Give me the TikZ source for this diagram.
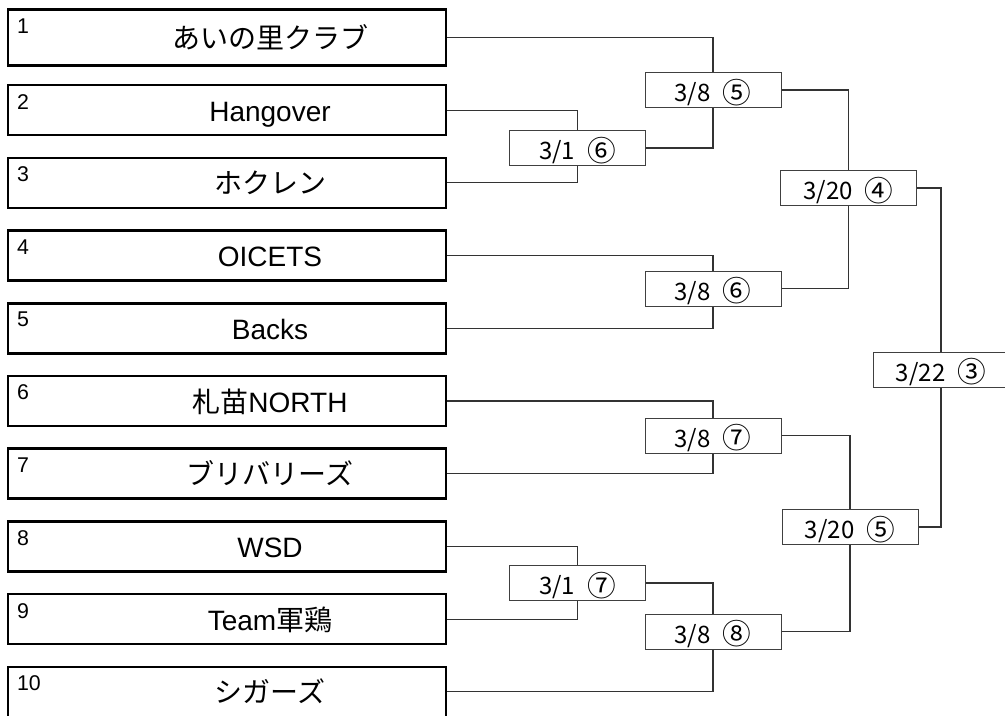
\documentclass[tikz,border=0pt]{standalone}
\usepackage{fontspec}
\setmainfont{Liberation Sans}
\newfontfamily\jp{Noto Sans CJK JP}
\usetikzlibrary{positioning,calc}

\newcommand{\gameno}[1]{\hspace{.5em}\raisebox{-1.3pt}{\fontsize{21.5}{21.5}\selectfont #1}}

\tikzset{
  teambox/.style={draw=black, line width=1.9pt, fill=white, minimum width=328.5pt, inner sep=0pt},
  teamname/.style={anchor=base, inner sep=0pt, font=\fontsize{21}{21}\selectfont},
  seednum/.style={anchor=north west, inner sep=0pt, font=\fontsize{16}{16}\selectfont},
  matchbox/.style={draw=black!75, line width=0.75pt, fill=white, minimum width=102pt,
    inner sep=0pt, text height=21.75pt, text depth=4.5pt, font=\jp\fontsize{18}{18}\selectfont},
  link/.style={draw=black!80, line width=0.85pt}
}

\begin{document}
\begin{tikzpicture}[x=0.75pt, y=-0.75pt]
\useasboundingbox (0,0) rectangle (1005,715);
\clip (0,0) rectangle (1005,715);

% entries
\foreach \i/\h/\name in {1/56/{\jp あいの里クラブ}, 2/50/Hangover, 3/50/{\jp ホクレン},
    4/50/OICETS, 5/50/Backs, 6/50/{{\jp 札苗}NORTH}, 7/50/{\jp ブリバリーズ},
    8/50/WSD, 9/50/{Team{\jp 軍鶏}}, 10/50/{\jp シガーズ}} {
  \pgfmathsetmacro\yc{37.5+72.7*(\i-1)}
  \node[teambox, minimum height=\h*0.75pt] (t\i) at (227,\yc) {};
  \node[seednum] (s\i) at ($(t\i.north west)+(10,10)$) {\i};
  \node[teamname] (n\i) at (270,\yc+11) {\name};
}

% matches
\node[matchbox] (m1) at (577.5,148) {3/1\gameno{⑥}};
\node[matchbox] (m2) at (713,90) {3/8\gameno{⑤}};
\node[matchbox] (m3) at (848.5,188) {3/20\gameno{④}};
\node[matchbox] (m4) at (713,288.5) {3/8\gameno{⑥}};
\node[matchbox] (m5) at (713,435.5) {3/8\gameno{⑦}};
\node[matchbox] (m6) at (850,527) {3/20\gameno{⑤}};
\node[matchbox] (m7) at (577.5,583) {3/1\gameno{⑦}};
\node[matchbox] (m8) at (713,631.5) {3/8\gameno{⑧}};
\node[matchbox] (m9) at (941,369.5) {3/22\gameno{③}};

% bracket lines
\foreach \a/\b in {t1/m2.north, t2/m1.north, t3/m1.south, m1/m2.south,
    m2/m3.north, t4/m4.north, t5/m4.south, m4/m3.south, m3/m9.north,
    t6/m5.north, t7/m5.south, m5/m6.north, t8/m7.north, t9/m7.south,
    m7/m8.north, t10/m8.south, m8/m6.south, m6/m9.south} {
  \draw[link] (\a.east) -| (\b);
}
\end{tikzpicture}
\end{document}
